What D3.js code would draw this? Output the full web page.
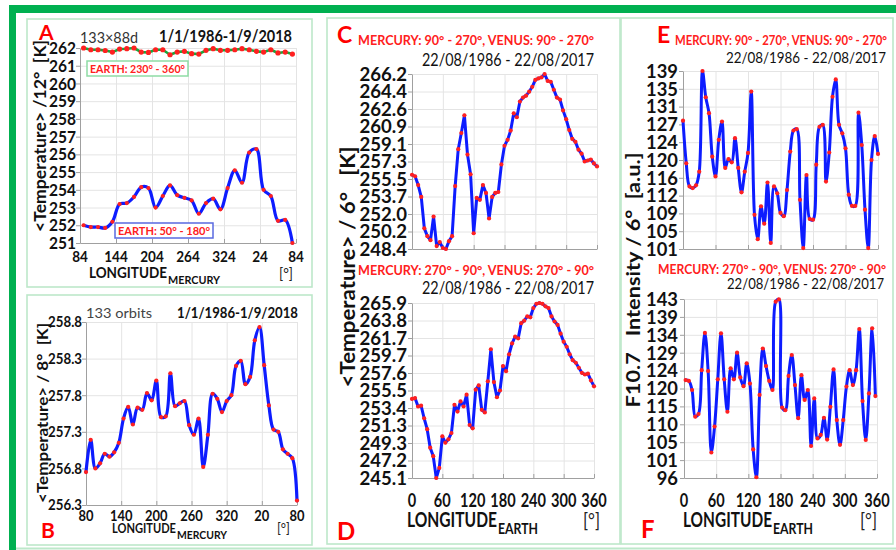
<!DOCTYPE html>
<html><head><meta charset="utf-8">
<script src="https://cdn.jsdelivr.net/npm/d3@7"></script>
<style>
html,body{margin:0;padding:0;background:#fff;}
svg{display:block;font-family:Lato,"Open Sans",sans-serif;}
text{white-space:pre;}
</style></head><body>
<svg id="c" width="896" height="550"></svg>
<script>
// ---------- data ----------
const mercuryTicksA = ["84","144","204","264","324","24","84"];
const tempTicksA = ["251","252","253","254","255","256","257","258","259","260","261","262"];
const earth230to360A = [262.0,261.9,261.9,261.86,261.77,261.94,261.96,262.0,261.77,261.75,261.9,261.9,261.62,261.77,261.81,261.68,261.66,261.87,261.96,261.87,261.87,261.9,261.96,261.9,261.81,261.77,261.9,261.72,261.77,261.66];
const earth50to180A = [252.0,251.9,251.9,251.85,252.2,253.2,253.25,253.6,254.15,254.1,253.0,253.65,254.25,253.7,253.55,253.4,252.65,253.25,253.5,252.9,254.1,255.1,254.4,256.1,256.3,254.0,253.65,252.25,252.3,251.0];

const mercuryTicksB = ["80","140","200","260","320","20","80"];
const tempTicksB = ["256.3","256.8","257.3","257.8","258.3","258.8"];
const tempB = [256.75,257.19,256.80,256.87,257.00,256.96,257.02,257.15,257.48,257.64,257.40,257.63,257.60,257.83,257.73,258.00,257.50,257.51,258.10,257.65,257.69,257.72,257.39,257.26,257.48,256.82,257.26,257.82,257.75,257.57,257.72,257.80,258.20,258.27,257.95,258.05,258.55,258.73,258.21,257.66,257.33,257.30,257.06,257.00,256.94,256.36];

const earthTicks = ["0","60","120","180","240","300","360"];
const tempTicksC = ["248.4","250.2","252.0","253.7","255.5","257.3","259.1","260.9","262.6","264.4","266.2"];
const tempC = [255.95,255.8,254.9,253.7,250.5,249.7,249.3,251.7,248.7,249.1,248.5,248.4,249.2,249.7,254.8,258.55,260.2,262.0,258.0,256.0,250.0,253.6,253.4,254.9,254.1,251.5,253.7,254.1,254.2,257.0,258.9,259.5,260.45,262.2,261.8,263.4,263.8,264.0,264.4,264.9,265.6,265.75,265.85,266.2,265.5,265.4,264.6,263.8,263.6,262.5,261.6,260.5,259.6,259.3,258.5,258.1,257.3,257.4,257.5,257.1,256.8];

const tempTicksD = ["245.1","247.2","249.3","251.3","253.4","255.5","257.6","259.7","261.7","263.8","265.9"];
const tempD = [254.5,254.6,253.6,253.7,252.2,250.9,248.7,247.7,245.1,246.3,250.05,249.3,249.7,250.45,253.8,253.0,254.2,253.6,255.0,251.4,251.0,255.6,256.1,253.2,252.9,256.6,260.4,256.5,254.7,255.5,258.4,257.8,259.8,261.1,261.9,261.7,263.5,263.8,264.3,264.2,265.3,265.8,265.9,265.8,265.5,265.3,264.3,263.7,263.3,262.25,261.3,260.7,259.8,259.1,258.8,258.2,257.6,257.4,257.5,256.7,256.0];

const fluxTicksE = ["101","105","109","112","116","120","124","127","131","135","139"];
const fluxE = [128.4,119.3,114.35,114.0,114.6,117.5,139.0,133.4,130.0,120.7,116.5,124.3,128.2,118.3,120.2,119.5,124.65,118.3,113.1,117.5,121.5,134.6,108.3,103.1,110.1,106.4,115.2,102.3,114.35,112.9,108.7,108.0,113.6,121.8,126.3,126.6,111.5,101.2,116.8,107.4,107.25,119.0,127.1,127.5,115.4,121.6,133.5,137.2,127.5,125.7,122.5,112.6,110.2,110.2,130.1,123.2,109.4,101.2,120.0,125.1,121.3];

const fluxTicksF = ["96","101","105","110","115","120","124","129","134","139","143"];
const fluxF = [121.7,121.5,119.1,112.1,112.8,124.3,134.1,124.1,102.7,109.5,121.9,134.0,121.9,113.4,124.8,121.9,128.9,122.4,120.1,126.1,120.8,103.5,96.2,117.8,130.0,125.4,121.5,119.1,142.3,142.9,114.5,113.8,122.8,128.3,120.4,111.7,123.0,116.5,119.1,104.4,116.9,106.4,107.3,111.8,106.1,114.7,124.5,111.2,104.7,111.2,120.0,124.3,120.4,124.3,135.1,116.2,106.0,118.2,135.3,117.5];

// ---------- drawing ----------
const svg = d3.select("#c");
const GRID="#e4e4e4", AXIS="#a0a0a0", BLUE="#0d1cff", RED="#ff2020", BOX="#bde8ca", GREEN="#00b050";

svg.append("rect").attr("x",9).attr("y",5).attr("width",7).attr("height",545).attr("fill",GREEN);
svg.append("rect").attr("x",9).attr("y",5).attr("width",887).attr("height",8).attr("fill",GREEN);
svg.append("line").attr("x1",16).attr("x2",896).attr("y1",548.5).attr("y2",548.5).attr("stroke",BOX).attr("stroke-width",2);
[[27,19,285,268],[27,295,285,250],[327,18,293,526],[621,18,272,526]].forEach(b=>{
  svg.append("rect").attr("x",b[0]).attr("y",b[1]).attr("width",b[2]).attr("height",b[3])
    .attr("fill","none").attr("stroke",BOX).attr("stroke-width",1.6);
});

function txt(s,x,y,o){
  const t = svg.append("text").attr("x",x).attr("y",y).text(s)
    .attr("font-size",o.size).attr("font-weight",o.bold?"bold":"normal")
    .attr("fill",o.color||"#111").attr("text-anchor",o.anchor||"start");
  if(o.len){ t.attr("textLength",o.len).attr("lengthAdjust","spacingAndGlyphs"); }
  return t;
}
function vtxt(s,cx,cy,o){
  svg.append("text").attr("transform",`translate(${cx},${cy}) rotate(-90)`)
    .attr("text-anchor","middle").attr("dominant-baseline","central")
    .attr("font-size",o.size).attr("font-weight","bold").attr("fill","#111")
    .attr("textLength",o.len).attr("lengthAdjust","spacingAndGlyphs").text(s);
}
// condensed width for numeric labels (Calibri-like proportions)
function numLen(s,size,k){ let w=0; for(const c of s){ w += (c==="."?0.26:k)*size; } return w; }

function plot(o){
  const x = d3.scaleLinear().domain([0,360]).range(o.xr);
  const y = d3.scaleLinear().domain(o.yd).range(o.yr);
  const n = o.yLabels.length;
  const yVals = o.yLabels.map((_,i)=> o.yd[0] + i*(o.yd[1]-o.yd[0])/(n-1));
  const xVals = d3.range(0,361,60);
  const g = svg.append("g");
  const w = o.xr[1]-o.xr[0], h = o.yr[0]-o.yr[1];
  g.append("g").attr("transform",`translate(${o.xr[0]},0)`)
    .call(d3.axisLeft(y).tickValues(yVals).tickSize(-w).tickFormat(""))
    .call(s=>{s.select(".domain").remove(); s.selectAll("line").attr("stroke",GRID);});
  g.append("g").attr("transform",`translate(0,${o.yr[0]})`)
    .call(d3.axisBottom(x).tickValues(xVals).tickSize(-h).tickFormat(""))
    .call(s=>{s.select(".domain").remove(); s.selectAll("line").attr("stroke",GRID);});
  g.append("g").attr("transform",`translate(${o.xr[0]},0)`)
    .call(d3.axisLeft(y).tickValues(yVals).tickSizeInner(4).tickSizeOuter(0).tickFormat(""))
    .call(s=>s.selectAll("path,line").attr("stroke",AXIS));
  g.append("g").attr("transform",`translate(0,${o.yr[0]})`)
    .call(d3.axisBottom(x).tickValues(xVals).tickSizeInner(-4).tickSizeOuter(0).tickFormat(""))
    .call(s=>s.selectAll("path,line").attr("stroke",AXIS));
  yVals.forEach((v,i)=>{
    g.append("text").attr("x",o.xr[0]-o.yPad).attr("y",y(v)).attr("dy","0.36em")
      .attr("text-anchor","end").attr("font-size",o.ySize).attr("font-weight","bold")
      .attr("fill","#111").attr("textLength",numLen(o.yLabels[i],o.ySize,o.yK))
      .attr("lengthAdjust","spacingAndGlyphs").text(o.yLabels[i]);
  });
  if(o.xLabels){
    xVals.forEach((v,i)=>{
      g.append("text").attr("x",x(v)).attr("y",o.xLabelY).attr("text-anchor","middle")
        .attr("font-size",o.xSize).attr("font-weight","bold").attr("fill","#111")
        .attr("textLength",numLen(o.xLabels[i],o.xSize,o.xK))
        .attr("lengthAdjust","spacingAndGlyphs").text(o.xLabels[i]);
    });
  }
  o.series.forEach(s=>{
    const pts = s.values.map((v,i)=>[x(s.lon[i]),y(v)]);
    const line = d3.line().curve(s.curve);
    g.append("path").attr("d",line(pts)).attr("fill","none").attr("stroke",s.color)
      .attr("stroke-width",s.w).attr("stroke-linejoin","round").attr("stroke-linecap","round");
    g.append("g").selectAll("circle").data(pts).join("circle")
      .attr("cx",d=>d[0]).attr("cy",d=>d[1]).attr("r",s.r).attr("fill",RED);
  });
}
const smooth = d3.curveCatmullRom.alpha(0.5);
const lon12 = earth50to180A.map((_,i)=>6+12*i);
const lon8 = tempB.map((_,i)=>8*i);
const lon6 = tempC.map((_,i)=>6*i);
const lon6F = fluxF.map((_,i)=>3+6*i);

// Panel A
plot({xr:[80,296],yr:[243,48],yd:[251,262],yLabels:tempTicksA,yPad:4,ySize:17,yK:0.53,
  xLabels:mercuryTicksA,xLabelY:262,xSize:16,xK:0.49,
  series:[{values:earth230to360A,lon:lon12,curve:d3.curveLinear,color:"#16a83c",w:2.6,r:2.6},
          {values:earth50to180A,lon:lon12,curve:smooth,color:BLUE,w:3.2,r:2.1}]});
// Panel B
plot({xr:[86,297],yr:[505,322],yd:[256.3,258.8],yLabels:tempTicksB,yPad:4,ySize:15,yK:0.5,
  xLabels:mercuryTicksB,xLabelY:521,xSize:15,xK:0.5,
  series:[{values:tempB,lon:lon8,curve:smooth,color:BLUE,w:3.2,r:2.1}]});
// Panel C
plot({xr:[412,597],yr:[249,74],yd:[248.4,266.2],yLabels:tempTicksC,yPad:5,ySize:19,yK:0.56,
  series:[{values:tempC,lon:lon6,curve:d3.curveLinear,color:BLUE,w:3,r:2.1}]});
// Panel D
plot({xr:[412,594],yr:[478,303],yd:[245.1,265.9],yLabels:tempTicksD,yPad:5,ySize:19,yK:0.56,
  xLabels:earthTicks,xLabelY:507,xSize:18,xK:0.47,
  series:[{values:tempD,lon:lon6,curve:d3.curveLinear,color:BLUE,w:3,r:2.1}]});
// Panel E
plot({xr:[683,878],yr:[249,71],yd:[101,139],yLabels:fluxTicksE,yPad:5,ySize:19,yK:0.56,
  series:[{values:fluxE,lon:lon6,curve:smooth,color:BLUE,w:3,r:2.1}]});
// Panel F
plot({xr:[684,877],yr:[478,299],yd:[96,143],yLabels:fluxTicksF,yPad:6,ySize:19,yK:0.56,
  xLabels:earthTicks,xLabelY:507,xSize:18,xK:0.47,
  series:[{values:fluxF,lon:lon6F,curve:smooth,color:BLUE,w:3,r:2.1}]});

// legend boxes (panel A)
svg.append("rect").attr("x",87).attr("y",61).attr("width",101).attr("height",15).attr("fill","#fff").attr("stroke","#8edca5").attr("stroke-width",1.5);
txt("EARTH: 230° - 360°",90,73,{size:12,bold:true,color:RED,len:95});
svg.append("rect").attr("x",115).attr("y",223).attr("width",98).attr("height",15).attr("fill","#fff").attr("stroke","#5a6ae0").attr("stroke-width",1.5);
txt("EARTH: 50° - 180°",118,235,{size:12,bold:true,color:RED,len:92});

// panel letters
txt("A",39,40,{size:21,bold:true,color:"#ff0000"});
txt("B",41,538,{size:21,bold:true,color:"#ff0000"});
txt("C",337,43,{size:23,bold:true,color:"#ff0000"});
txt("D",337,540,{size:24,bold:true,color:"#ff0000"});
txt("E",657,43,{size:23,bold:true,color:"#ff0000"});
txt("F",641,538,{size:24,bold:true,color:"#ff0000"});

// panel A texts
txt("133×88d",80,43,{size:16,color:"#333",len:58});
txt("1/1/1986-1/9/2018",159,42,{size:17,bold:true,len:133});
vtxt("<Temperature> /12°  [K]",39,136,{size:17,len:192});
txt("LONGITUDE",89,278,{size:16,bold:true,len:78});
txt("MERCURY",168,284,{size:12,bold:true,len:52});
txt("[°]",279,279,{size:15,color:"#222",len:14});

// panel B texts
txt("133 orbits",86,318,{size:14,color:"#444",len:66});
txt("1/1/1986-1/9/2018",177,318,{size:15,bold:true,len:121});
vtxt("<Temperature> / 8°  [K]",41,413,{size:16,len:180});
txt("LONGITUDE",112,533,{size:13.5,bold:true,len:64});
txt("MERCURY",177,539,{size:10.5,bold:true,len:50});
txt("[°]",277,533,{size:13,color:"#222",len:13});

// panel C/D texts
txt("MERCURY: 90° - 270°, VENUS: 90° - 270°",358,45,{size:13.5,bold:true,color:RED,len:236});
txt("22/08/1986 - 22/08/2017",422,66,{size:17,color:"#111",len:172});
txt("MERCURY: 270° - 90°, VENUS: 270° - 90°",358,275,{size:13.5,bold:true,color:RED,len:236});
txt("22/08/1986 - 22/08/2017",422,294,{size:17,color:"#111",len:172});
vtxt("<Temperature> / 6°   [K]",346,267,{size:21,len:241});
txt("LONGITUDE",407,527,{size:20,bold:true,len:90});
txt("EARTH",498,534,{size:15,bold:true,len:40});
txt("[°]",583,527,{size:19,color:"#222",len:17});

// panel E/F texts
txt("MERCURY: 90° - 270°, VENUS: 90° - 270°",675,45,{size:13,bold:true,color:RED,len:212});
txt("22/08/1986 - 22/08/2017",726,63,{size:16,color:"#111",len:160});
txt("MERCURY: 270° - 90°, VENUS: 270° - 90°",658,274,{size:13,bold:true,color:RED,len:228});
txt("22/08/1986 - 22/08/2017",727,289,{size:15.5,color:"#111",len:157});
vtxt("F10.7   Intensity / 6°  [a.u.]",632,280,{size:19,len:255});
txt("LONGITUDE",683,527,{size:20,bold:true,len:89});
txt("EARTH",773,534,{size:15,bold:true,len:40});
txt("[°]",860,527,{size:19,color:"#222",len:17});
</script>
</body></html>
